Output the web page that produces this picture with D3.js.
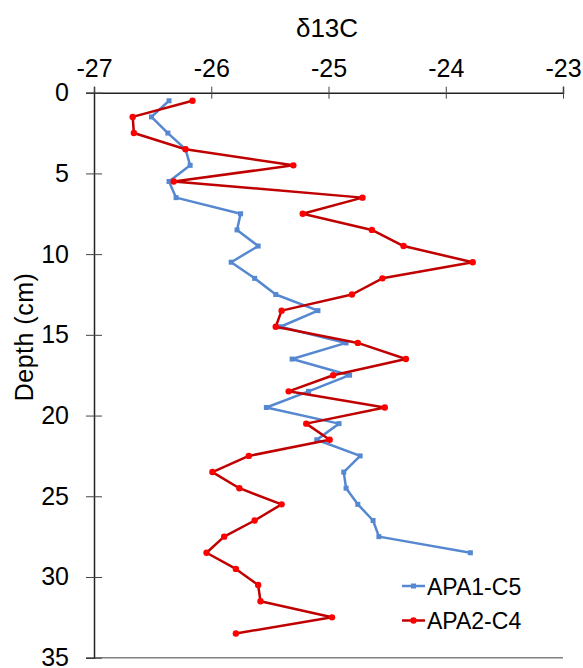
<!DOCTYPE html>
<html lang="en">
<head>
<meta charset="utf-8">
<title>d13C depth profile</title>
<script src="https://d3js.org/d3.v7.min.js"></script>
<style>
  body { margin: 0; background: white; }
  svg text { font-family: "Liberation Sans", Arial, sans-serif; fill: #000; }
</style>
</head>
<body>
<script>
// data (depth in cm, d13C)
var depthsA = [0.5,1.5,2.5,3.5,4.5,5.5,6.5,7.5,8.5,9.5,10.5,11.5,12.5,13.5,14.5,15.5,16.5,17.5,18.5,19.5,20.5,21.5,22.5,23.5,24.5,25.5,26.5,27.5,28.5];
var apa1 = [-26.36,-26.51,-26.37,-26.22,-26.18,-26.36,-26.30,-25.75,-25.78,-25.60,-25.83,-25.63,-25.45,-25.09,-25.41,-24.85,-25.31,-24.82,-25.17,-25.53,-24.91,-25.10,-24.73,-24.87,-24.85,-24.75,-24.62,-24.57,-23.79];
var depthsB = [0.5,1.5,2.5,3.5,4.5,5.5,6.5,7.5,8.5,9.5,10.5,11.5,12.5,13.5,14.5,15.5,16.5,17.5,18.5,19.5,20.5,21.5,22.5,23.5,24.5,25.5,26.5,27.5,28.5,29.5,30.5,31.5,32.5,33.5];
var apa2 = [-26.16,-26.67,-26.66,-26.22,-25.30,-26.32,-24.71,-25.22,-24.63,-24.36,-23.77,-24.54,-24.80,-25.40,-25.45,-24.75,-24.34,-24.96,-25.34,-24.52,-25.19,-24.99,-25.68,-25.99,-25.76,-25.40,-25.63,-25.89,-26.04,-25.79,-25.60,-25.58,-24.97,-25.79];
var xTicks = [-27,-26,-25,-24,-23];
var yTicks = [0,5,10,15,20,25,30,35];
var seriesNames = ["APA1-C5", "APA2-C4"];

var w = 583, h = 668;
var pLeft = 94, pTop = 92.7, pRight = 563, pBottom = 657.7;

var x = d3.scaleLinear().domain([-27, -23]).range([pLeft, pRight]);
var y = d3.scaleLinear().domain([0, 35]).range([pTop, pBottom]);

var svg = d3.select("body").append("svg").attr("width", w).attr("height", h);

// bottom border line
svg.append("line").attr("x1", pLeft).attr("x2", pRight).attr("y1", pBottom).attr("y2", pBottom)
  .attr("stroke", "#808080").attr("stroke-width", 1.5);

// top axis
var xAxis = d3.axisTop(x).tickValues(xTicks).tickSize(6).tickPadding(10).tickFormat(d3.format("d"));
svg.append("g").attr("transform", "translate(0," + pTop + ")").call(xAxis)
  .call(function(g) {
    g.select(".domain").attr("stroke", "#222").attr("stroke-width", 1.5);
    g.selectAll(".tick line").attr("y1", -6).attr("y2", 6).attr("stroke", "#444");
    g.selectAll(".tick text").attr("font-size", 25).attr("font-family", "Liberation Sans, Arial").text(function(d) { return String(d); });
  });

// left axis
var yAxis = d3.axisLeft(y).tickValues(yTicks).tickSize(8).tickPadding(17);
svg.append("g").attr("transform", "translate(" + pLeft + ",0)").call(yAxis)
  .call(function(g) {
    g.select(".domain").attr("stroke", "#222").attr("stroke-width", 1.5);
    g.selectAll(".tick line").attr("x1", -8).attr("x2", 8).attr("stroke", "#444");
    g.selectAll(".tick text").attr("font-size", 25).attr("font-family", "Liberation Sans, Arial");
  });

// titles
svg.append("text").attr("x", 327).attr("y", 37).attr("text-anchor", "middle")
  .attr("font-size", 26).text("δ13C");
svg.append("text").attr("transform", "translate(33,337) rotate(-90)")
  .attr("text-anchor", "middle").attr("font-size", 25).attr("letter-spacing", 0.5).text("Depth (cm)");

var line = d3.line().x(function(d) { return x(d[0]); }).y(function(d) { return y(d[1]); });

var blue = "#5588D0", redLine = "#C00000", redDot = "#FF0000";

var dataA = apa1.map(function(v, i) { return [v, depthsA[i]]; });
var dataB = apa2.map(function(v, i) { return [v, depthsB[i]]; });

// APA1-C5
svg.append("path").datum(dataA).attr("d", line).attr("fill", "none")
  .attr("stroke", blue).attr("stroke-width", 2.5).attr("stroke-linejoin", "round");
svg.append("g").selectAll("rect").data(dataA).enter().append("rect")
  .attr("x", function(d) { return x(d[0]) - 2.5; })
  .attr("y", function(d) { return y(d[1]) - 2.5; })
  .attr("width", 5).attr("height", 5).attr("fill", blue);

// APA2-C4
svg.append("path").datum(dataB).attr("d", line).attr("fill", "none")
  .attr("stroke", redLine).attr("stroke-width", 2.5).attr("stroke-linejoin", "round");
svg.append("g").selectAll("circle").data(dataB).enter().append("circle")
  .attr("cx", function(d) { return x(d[0]); })
  .attr("cy", function(d) { return y(d[1]); })
  .attr("r", 3.2).attr("fill", redDot);

// legend
var legend = svg.append("g");
var legY = [586, 620.5];
legend.append("line").attr("x1", 402).attr("x2", 425).attr("y1", legY[0]).attr("y2", legY[0])
  .attr("stroke", blue).attr("stroke-width", 2.5);
legend.append("rect").attr("x", 411).attr("y", legY[0] - 2.5).attr("width", 5).attr("height", 5).attr("fill", blue);
legend.append("line").attr("x1", 402).attr("x2", 425).attr("y1", legY[1]).attr("y2", legY[1])
  .attr("stroke", redLine).attr("stroke-width", 2.5);
legend.append("circle").attr("cx", 413.5).attr("cy", legY[1]).attr("r", 3.2).attr("fill", redDot);
legend.selectAll("text").data(seriesNames).enter().append("text")
  .attr("x", 427).attr("y", function(d, i) { return legY[i] + 8.5; })
  .attr("font-size", 23).text(function(d) { return d; });
</script>
</body>
</html>
